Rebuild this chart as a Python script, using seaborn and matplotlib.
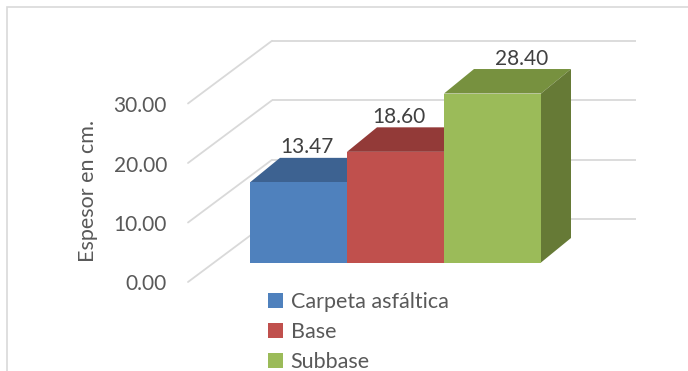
import matplotlib
matplotlib.use("Agg")
import matplotlib.pyplot as plt
from matplotlib.patches import Polygon, Patch, Rectangle
import seaborn as sns
import pandas as pd

# ---- data ----
categories = ["Carpeta asfáltica", "Base", "Subbase"]
thickness_cm = [13.47, 18.60, 28.40]
y_ticks = [0, 10, 20, 30]
y_label = "Espesor en cm."

# ---- styling ----
front_colors = ["#4F81BD", "#C0504D", "#9BBB59"]
top_colors = ["#3D6291", "#933A38", "#77913F"]
side_colors = ["#34557E", "#7E3230", "#667A36"]
grid_color = "#D9D9D9"
text_color = "#595959"
label_color = "#404040"

sns.set_theme(style="white")
plt.rcParams["font.family"] = ["Lato", "DejaVu Sans"]

W, H = 688, 371
fig = plt.figure(figsize=(W / 100, H / 100), dpi=100)
ax = fig.add_axes([0, 0, 1, 1])

# front faces of the bars
df = pd.DataFrame({"capa": categories, "espesor": thickness_cm})
sns.barplot(data=df, x="capa", y="espesor", hue="capa", palette=front_colors,
            width=1.0, linewidth=0, legend=False, ax=ax, zorder=3,
            saturation=1)

# pixel scale of the data space (bars sit on the front plane)
PX_X, PX_Y = 97.0, 5.95        # pixels per category / per cm
X0_PX, Y0_PX = 298.5, 262.5    # pixel position of (x=0, y=0), y counted from top
ax.set_xlim(-X0_PX / PX_X, (W - X0_PX) / PX_X)
ax.set_ylim((Y0_PX - H) / PX_Y, Y0_PX / PX_Y)


def dx(px):
    return px / PX_X


def dy(px):
    return px / PX_Y


def xpx(px):
    return (px - X0_PX) / PX_X


# 3-D frame geometry (in data units)
back_left, back_right = xpx(272), xpx(636)
back_lift = dy(43.2)
front_x, front_drop = xpx(188), dy(19.5)
bar_dx, bar_dy = dx(30), dy(24.5)

# back wall grid lines and left-side diagonals
for v in y_ticks:
    ax.plot([back_left, back_right], [v + back_lift] * 2, color=grid_color,
            lw=1.3, zorder=0.5, solid_capstyle="butt")
    ax.plot([front_x, back_left], [v - front_drop, v + back_lift],
            color=grid_color, lw=1.3, zorder=0.5)
    ax.text(front_x - dx(21), v - front_drop - dy(2.5), f"{v:.2f}",
            ha="right", va="center", fontsize=15, color=text_color)

# top and side faces, drawn bar by bar so each front face hides the previous side
bars = list(ax.patches)
for i, (bar, v) in enumerate(zip(bars, thickness_cm)):
    x0 = bar.get_x()
    x1 = x0 + bar.get_width()
    z = 2 + i
    bar.set_zorder(z + 0.6)
    top = Polygon([(x0, v), (x1, v), (x1 + bar_dx, v + bar_dy),
                   (x0 + bar_dx, v + bar_dy)], closed=True,
                  facecolor=top_colors[i], edgecolor="none", zorder=z + 0.5)
    side = Polygon([(x1, 0), (x1 + bar_dx, bar_dy), (x1 + bar_dx, v + bar_dy),
                    (x1, v)], closed=True, facecolor=side_colors[i],
                   edgecolor="none", zorder=z + 0.5)
    ax.add_patch(top)
    ax.add_patch(side)

# value labels above each bar
label_nudge = [dx(8), dx(3), dx(29)]
for i, v in enumerate(thickness_cm):
    ax.text(i + label_nudge[i], v + dy(35), f"{v:.2f}", ha="center",
            va="center", fontsize=15, color=label_color, zorder=10)

ax.set_axis_off()

# axis title
fig.text(88 / W, 1 - 191 / H, y_label, rotation=90, ha="center", va="center",
         fontsize=15.5, color=text_color)

# legend
handles = [Patch(facecolor=c, edgecolor="none") for c in front_colors]
fig.legend(handles, categories, loc="upper left",
           bbox_to_anchor=(268 / W, 1 - 292 / H), frameon=False,
           fontsize=15.5, labelcolor=text_color, handlelength=0.7,
           handleheight=0.7, handletextpad=0.35, labelspacing=0.47,
           borderpad=0, borderaxespad=0)

# chart area border
fig.patches.append(Rectangle((7 / W, -0.1), 1.2, 1 - 6.5 / H + 0.1,
                             transform=fig.transFigure, fill=False,
                             edgecolor=grid_color, lw=1.2))

fig.savefig("out.png", dpi=100)
